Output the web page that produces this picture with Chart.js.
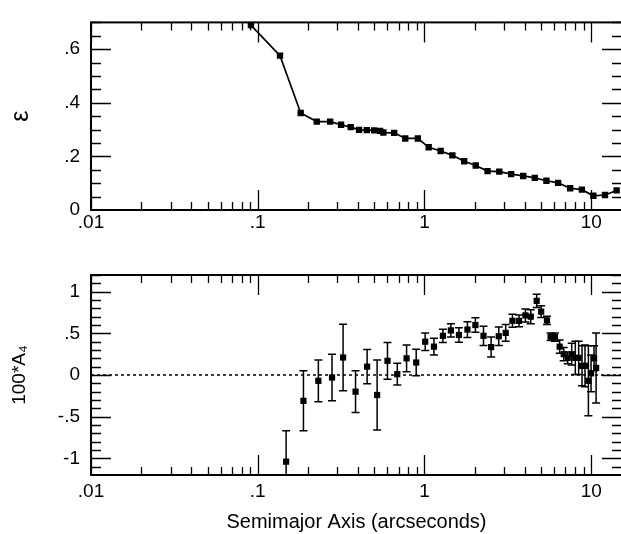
<!DOCTYPE html>
<html>
<head>
<meta charset="utf-8">
<script src="https://cdn.jsdelivr.net/npm/chart.js@4/dist/chart.umd.min.js"></script>
<style>
  html, body { margin: 0; padding: 0; background: #fff; overflow: hidden; }
  canvas { position: absolute; left: 0; }
  #top { top: 0; }
  #bottom { top: 250px; }
</style>
</head>
<body>
<canvas id="top" width="630" height="250"></canvas>
<canvas id="bottom" width="630" height="284"></canvas>
<script>
// ellipticity profile (top panel)
const epsRadius = [0.091, 0.136, 0.181, 0.226, 0.272, 0.316, 0.361, 0.405, 0.451, 0.499, 0.542, 0.567,
  0.658, 0.767, 0.912, 1.06, 1.25, 1.47, 1.73, 2.03, 2.39, 2.81, 3.31, 3.91, 4.59, 5.39, 6.33,
  7.48, 8.79, 10.3, 12.1, 14.2];
const epsValue = [0.690, 0.576, 0.362, 0.330, 0.330, 0.318, 0.309, 0.299, 0.298, 0.297, 0.295, 0.289,
  0.288, 0.267, 0.267, 0.234, 0.220, 0.204, 0.182, 0.166, 0.145, 0.143, 0.134, 0.127, 0.120, 0.109, 0.101,
  0.081, 0.076, 0.053, 0.056, 0.073];

// 100*A4 profile (bottom panel)
const a4Radius = [0.148, 0.188, 0.231, 0.279, 0.325, 0.386, 0.453, 0.520, 0.600, 0.687, 0.781, 0.892,
  1.01, 1.14, 1.29, 1.44, 1.61, 1.81, 2.02, 2.26, 2.51, 2.79, 3.07, 3.37, 3.69, 4.03, 4.34, 4.71,
  5.01, 5.43, 5.71, 6.06, 6.47, 6.84, 7.23, 7.64, 8.03, 8.41, 8.81, 9.18, 9.62, 9.98, 10.4, 10.7];
const a4Value = [-1.04, -0.31, -0.07, -0.03, 0.21, -0.20, 0.10, -0.24, 0.17, 0.01, 0.20, 0.15,
  0.40, 0.34, 0.47, 0.535, 0.48, 0.545, 0.60, 0.47, 0.335, 0.465, 0.505, 0.65, 0.65, 0.715, 0.70, 0.89,
  0.76, 0.655, 0.46, 0.455, 0.34, 0.25, 0.205, 0.25, 0.205, 0.205, 0.11, 0.11, -0.07, 0.02, 0.20, 0.085];
const a4Error = [0.37, 0.36, 0.25, 0.28, 0.40, 0.25, 0.205, 0.42, 0.22, 0.13, 0.16, 0.16,
  0.105, 0.10, 0.08, 0.08, 0.087, 0.094, 0.086, 0.116, 0.12, 0.11, 0.10, 0.078, 0.07, 0.078, 0.084, 0.08,
  0.07, 0.05, 0.045, 0.05, 0.08, 0.08, 0.07, 0.13, 0.20, 0.20, 0.24, 0.25, 0.42, 0.22, 0.15, 0.42];

const xTickValues = [0.01, 0.1, 1, 10];
const epsTickValues = [0, 0.2, 0.4, 0.6];
const a4TickValues = [-1, -0.5, 0, 0.5, 1];

const X_MIN = 0.01, X_MAX = 15.3;
const FONT = 'Liberation Sans, Arial, Helvetica, sans-serif';

// ".6", "-.5", ".01" style labels
function fmt(v) {
  if (v === 0) return '0';
  let s = String(Math.round(v * 1000) / 1000);
  return s.replace(/^(-?)0\./, '$1.');
}

// minor x ticks 2..9 in each decade
const xMinor = [];
for (let d = 0.01; d < 20; d *= 10) {
  for (let k = 2; k <= 9; k++) {
    const v = +(d * k).toPrecision(3);
    if (v < X_MAX) xMinor.push(v);
  }
}

// frame + inward ticks on all four sides
const frameTicks = {
  id: 'frameTicks',
  afterDatasetsDraw(chart, args, opts) {
    const { ctx, chartArea: { left, right, top, bottom }, scales: { x, y } } = chart;
    ctx.save();
    ctx.strokeStyle = '#000';
    ctx.lineWidth = 1.3;
    ctx.beginPath();
    const xt = xTickValues.map(v => [v, 20]).concat(xMinor.map(v => [v, 8]));
    xt.forEach(([v, len]) => {
      const px = Math.round(x.getPixelForValue(v)) + 0.5;
      if (px < left - 1 || px > right) return;
      ctx.moveTo(px, bottom); ctx.lineTo(px, bottom - len);
      ctx.moveTo(px, top); ctx.lineTo(px, top + len);
    });
    for (let v = opts.yMin; v <= opts.yMax + 1e-9; v += opts.yMinorStep) {
      const vv = Math.round(v * 1000) / 1000;
      const major = opts.yMajor.some(m => Math.abs(m - vv) < 1e-6);
      const len = major ? 20 : 10;
      const py = Math.round(y.getPixelForValue(vv)) + 0.5;
      if (py < top || py > bottom) continue;
      ctx.moveTo(left, py); ctx.lineTo(left + len, py);
      ctx.moveTo(right, py); ctx.lineTo(right - len, py);
    }
    ctx.stroke();
    ctx.lineWidth = 2;
    ctx.strokeRect(left, top, right - left, bottom - top);
    if (opts.zeroLine) {
      const py = y.getPixelForValue(0);
      ctx.setLineDash([3, 3]);
      ctx.lineWidth = 1.4;
      ctx.beginPath();
      ctx.moveTo(left, py); ctx.lineTo(right, py);
      ctx.stroke();
    }
    ctx.restore();
  }
};

// vertical error bars with caps
const errorBars = {
  id: 'errorBars',
  beforeDatasetsDraw(chart) {
    const { ctx, chartArea: { top, bottom }, scales: { x, y } } = chart;
    ctx.save();
    ctx.strokeStyle = '#000';
    ctx.lineWidth = 1.5;
    chart.data.datasets.forEach(ds => {
      if (!ds.errors) return;
      ds.data.forEach((p, i) => {
        const e = ds.errors[i];
        const px = x.getPixelForValue(p.x);
        let y1 = y.getPixelForValue(p.y + e);
        let y2 = y.getPixelForValue(p.y - e);
        ctx.beginPath();
        ctx.moveTo(px, Math.max(y1, top));
        ctx.lineTo(px, Math.min(y2, bottom));
        if (y1 >= top) { ctx.moveTo(px - 4, y1); ctx.lineTo(px + 4, y1); }
        if (y2 <= bottom) { ctx.moveTo(px - 4, y2); ctx.lineTo(px + 4, y2); }
        ctx.stroke();
      });
    });
    ctx.restore();
  }
};

function xScale(showTitle, pad, height) {
  return {
    type: 'logarithmic',
    min: X_MIN, max: X_MAX,
    grid: { display: false, drawTicks: false },
    border: { display: false },
    afterBuildTicks: s => { s.ticks = xTickValues.map(v => ({ value: v })); },
    afterFit: s => { s.height = height; },
    ticks: {
      autoSkip: false, maxRotation: 0, padding: pad, color: '#000',
      font: { family: FONT, size: 19 },
      callback: v => fmt(v)
    },
    title: {
      display: showTitle, text: 'Semimajor Axis (arcseconds)', color: '#000',
      font: { family: FONT, size: 20 }, padding: { top: 0, bottom: 0 }
    }
  };
}

function yScale(min, max, tickVals, title, titleSize, titlePad) {
  return {
    type: 'linear', min: min, max: max,
    grid: { display: false, drawTicks: false },
    border: { display: false },
    afterBuildTicks: s => { s.ticks = tickVals.map(v => ({ value: v })); },
    afterFit: s => { s.width = 91; },
    ticks: { padding: 11, color: '#000', font: { family: FONT, size: 19 }, callback: v => fmt(v) },
    title: {
      display: true, text: title, color: '#000',
      font: { family: FONT, size: titleSize }, padding: { top: titlePad, bottom: 0 }
    }
  };
}

new Chart(document.getElementById('top'), {
  type: 'line',
  data: {
    datasets: [{
      data: epsRadius.map((r, i) => ({ x: r, y: epsValue[i] })),
      borderColor: '#000', borderWidth: 1.7, tension: 0,
      pointStyle: 'rect', pointRadius: 4.5,
      pointBackgroundColor: '#000', pointBorderColor: '#000', pointBorderWidth: 0
    }]
  },
  options: {
    responsive: false, animation: false,
    layout: { padding: { top: 10, right: 8, left: 0, bottom: 0 } },
    plugins: {
      legend: { display: false }, tooltip: { enabled: false },
      frameTicks: { yMin: 0, yMax: 0.7, yMinorStep: 0.05, yMajor: epsTickValues, zeroLine: false }
    },
    scales: {
      x: xScale(false, 1, 40),
      y: yScale(0, 0.7, epsTickValues, 'ε', 25, 6)
    }
  },
  plugins: [frameTicks]
});

new Chart(document.getElementById('bottom'), {
  type: 'scatter',
  data: {
    datasets: [{
      data: a4Radius.map((r, i) => ({ x: r, y: a4Value[i] })),
      errors: a4Error,
      showLine: false,
      pointStyle: 'rect', pointRadius: 4.4,
      pointBackgroundColor: '#000', pointBorderColor: '#000', pointBorderWidth: 0
    }]
  },
  options: {
    responsive: false, animation: false,
    layout: { padding: { top: 25, right: 8, left: 0, bottom: 0 } },
    plugins: {
      legend: { display: false }, tooltip: { enabled: false },
      frameTicks: { yMin: -1.2, yMax: 1.2, yMinorStep: 0.1, yMajor: a4TickValues, zeroLine: true }
    },
    scales: {
      x: xScale(true, 5, 59),
      y: yScale(-1.2, 1.2, a4TickValues, '100*A₄', 19, 8)
    }
  },
  plugins: [errorBars, frameTicks]
});
</script>
</body>
</html>
